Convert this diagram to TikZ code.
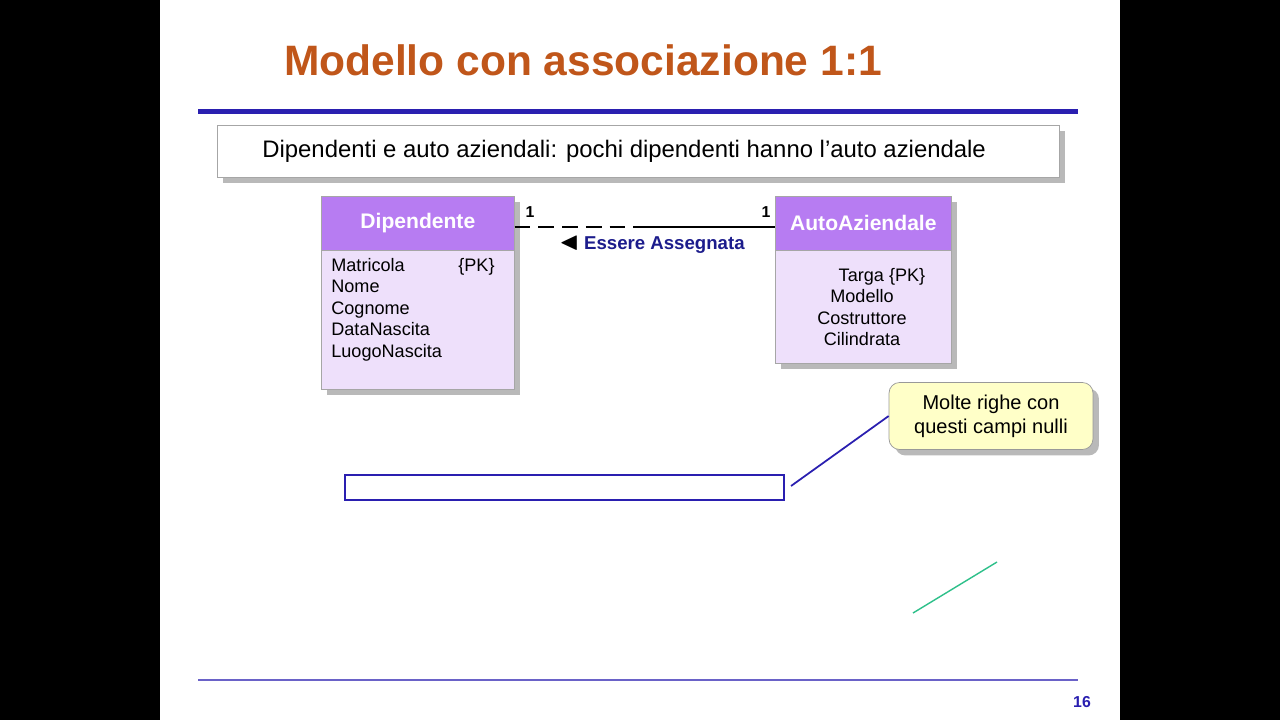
\documentclass[tikz,border=0pt]{standalone}
\usepackage{amssymb}
\usepackage{fontspec}
\setmainfont{Liberation Sans}
\usetikzlibrary{positioning, calc, shadows}

\definecolor{titlecol}{HTML}{C0561A}
\definecolor{barblue}{HTML}{2A1FB0}
\definecolor{headcol}{HTML}{B77CF2}
\definecolor{bodycol}{HTML}{EEE0FB}
\definecolor{notecol}{HTML}{FFFFC8}
\definecolor{assoccol}{HTML}{1C1C8C}
\definecolor{greencol}{HTML}{2EC08A}

\begin{document}
\begin{tikzpicture}[x=0.02cm, y=-0.02cm, >=stealth]

% Styles
\tikzset{
  shade box/.style={drop shadow={shadow xshift=0.12cm, shadow yshift=-0.12cm, fill=gray!55, opacity=1}},
  head/.style={draw=gray!70, fill=headcol, minimum height=1.08cm, text=white, font=\bfseries\fontsize{12}{14}\selectfont, inner sep=0pt},
  body/.style={draw=gray!70, fill=bodycol, inner sep=0pt},
  attr/.style={font=\fontsize{10.3}{12.2}\selectfont, align=left, anchor=north west, inner sep=0pt},
  card/.style={font=\bfseries\fontsize{9}{10}\selectfont, inner sep=0pt}
}

% Background
\useasboundingbox (0,0) rectangle (1280,720);
\fill[black] (0,0) rectangle (1280,720);
\fill[white] (160,0) rectangle (1120,720);

% --- Title ---
\node (title) at (583,60) {\bfseries\fontsize{24.2}{29}\selectfont\color{titlecol}Modello con associazione 1:1};
\fill[barblue] (198,109) rectangle (1078,114);
\draw[barblue!70, line width=0.6pt] (198,680) -- (1078,680);
\node (page) at (1082,702) {\bfseries\fontsize{9}{10}\selectfont\color{barblue}16};

% --- Statement ---
\node (stmt) [shade box, draw=gray!70, fill=white, minimum width=16.84cm, minimum height=1.04cm, anchor=north west, inner sep=0pt] at (217,125) {};
\node [anchor=west, inner sep=0pt, font=\fontsize{13.6}{16}\selectfont] at (262,151) {Dipendenti e auto aziendali: pochi dipendenti hanno l’auto aziendale};

% --- Entities ---
\node (dipbody) [body, shade box, minimum width=3.86cm, minimum height=3.86cm, anchor=north west] at (321,196) {};
\node (diphead) [head, minimum width=3.86cm, anchor=north west] at (321,196) {Dipendente};
\node [attr] at (331,258) {Matricola\\Nome\\Cognome\\DataNascita\\LuogoNascita};
\node [attr] at (458,258) {\{PK\}};

\node (autobody) [body, shade box, minimum width=3.52cm, minimum height=3.34cm, anchor=north west] at (775,196) {};
\node (autohead) [head, minimum width=3.52cm, anchor=north west] at (775,196) {AutoAziendale};
\node [attr, align=center, anchor=north] at (862,268) {\hspace*{0.8cm}Targa \{PK\}\\Modello\\Costruttore\\Cilindrata};

% --- Association ---
\coordinate (mid) at (640,227);
\draw[thick, dash pattern=on 9pt off 4.5pt] (diphead.east |- mid) -- (mid);
\draw[thick] (mid) -- (autohead.west |- mid);
\node [card] at (530,212) {1};
\node [card] at (766,212) {1};
\node (assoc) [font=\bfseries\fontsize{10.6}{12}\selectfont, text=assoccol, inner sep=0pt] at (652,245) {\textcolor{black}{\Large$\blacktriangleleft$} Essere Assegnata};

% --- Null fields ---
\node (nulls) [draw=barblue, line width=1pt, minimum width=8.78cm, minimum height=0.5cm, anchor=north west, inner sep=0pt] at (344,474) {};
\node (note) [shade box, draw=gray!80, fill=notecol, rounded corners=6pt, minimum width=4.08cm, minimum height=1.34cm, align=center, font=\fontsize{11.4}{13.6}\selectfont, inner sep=0pt] at (991,416) {Molte righe con\\questi campi nulli};
\coordinate (tip) at (791,486);
\draw[barblue, line width=1pt] (note.west) -- (tip);

\draw[greencol, line width=0.8pt] (913,613) -- (997,562);

\end{tikzpicture}
\end{document}
